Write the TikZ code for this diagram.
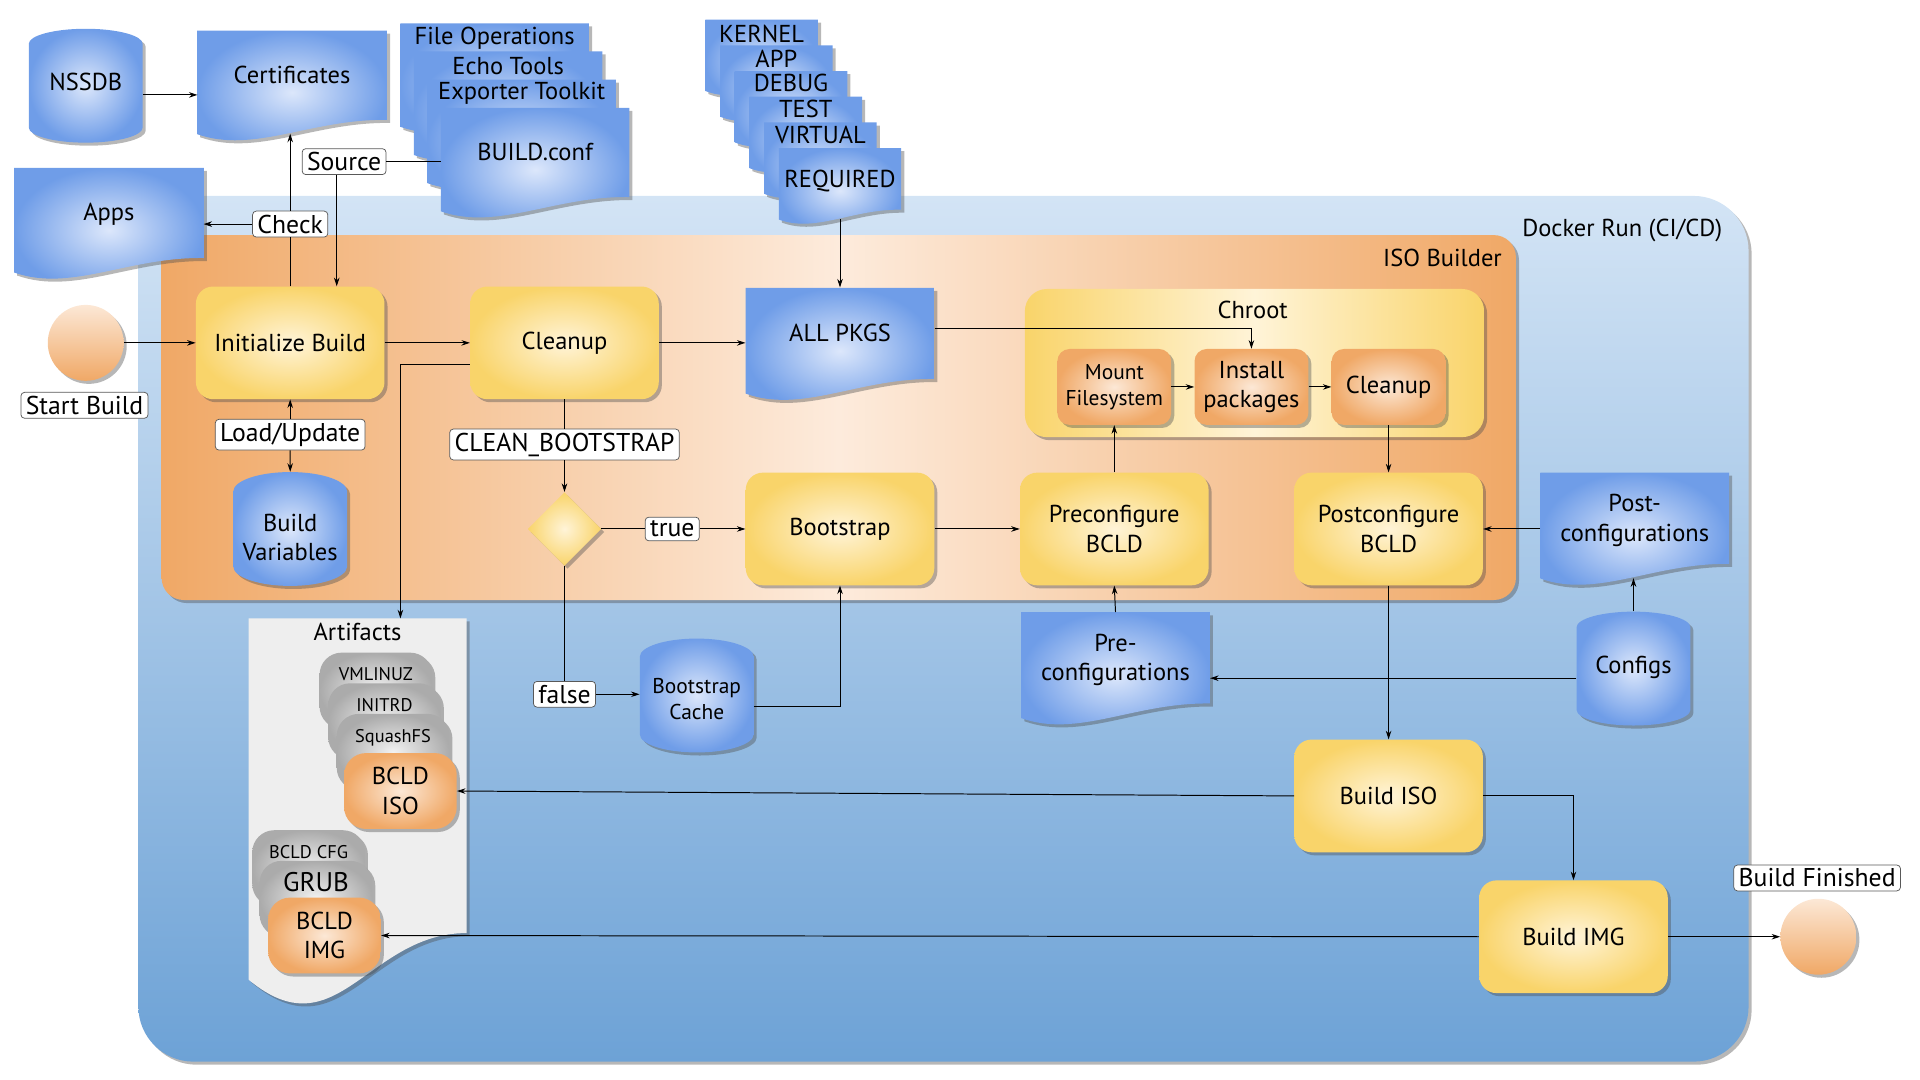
\documentclass[tikz,border=0pt]{standalone}
\usepackage{fontspec}
\setmainfont{PT Sans}
\usetikzlibrary{positioning,shapes.geometric,shadows,arrows.meta}

\definecolor{yelOut}{HTML}{F9D46A}
\definecolor{yelIn}{HTML}{FFF4D8}
\definecolor{bluOut}{HTML}{6F9DE8}
\definecolor{bluIn}{HTML}{DCE7FB}
\definecolor{ornOut}{HTML}{F0A866}
\definecolor{ornIn}{HTML}{FCE8D6}
\definecolor{gryOut}{HTML}{ABABAB}
\definecolor{gryIn}{HTML}{F2F2F2}
\definecolor{dockTop}{HTML}{D3E4F5}
\definecolor{dockBot}{HTML}{6DA2D6}
\definecolor{isoSide}{HTML}{F0A866}
\definecolor{isoMid}{HTML}{FDEBDC}
\definecolor{artBg}{HTML}{EEEEEE}

\newcommand\txtL{\fontsize{20}{24}\selectfont}
\newcommand\txtLbl{\fontsize{21}{24}\selectfont}
\newcommand\txtM{\fontsize{17.5}{21}\selectfont}
\newcommand\txtS{\fontsize{15}{17}\selectfont}

% document shape: centre x, centre y, width, height
\newcommand\docshape[4]{%
  \path[docfill] ({#1-#3/2},{#2-#4/2}) -- ({#1+#3/2},{#2-#4/2}) -- ({#1+#3/2},{#2+0.31*#4})
    .. controls ({#1+0.1*#3},{#2+0.3*#4}) and ({#1-0.2*#3},{#2+0.62*#4}) .. ({#1-#3/2},{#2+0.44*#4}) -- cycle;}

\tikzset{
  every node/.style={font=\txtL},
  arr/.style={-{Stealth[length=7pt,width=4.5pt]}, line width=0.8pt},
  ln/.style={line width=0.8pt},
  shdw/.style={drop shadow={shadow xshift=2.5pt, shadow yshift=-2.5pt, opacity=0.4, fill=black!70}},
  proc/.style={shade, shdw, rounded corners=14pt, inner color=yelIn, outer color=yelOut,
    minimum width=154pt, minimum height=92pt, align=center},
  sub/.style={shade, shdw, rounded corners=10pt, inner color=ornIn, outer color=ornOut,
    minimum width=93pt, minimum height=62pt, align=center},
  docfill/.style={shade, shdw, inner color=bluIn, outer color=bluOut},
  docnode/.style={align=center, minimum width=154pt, text depth=12pt},
  db/.style={cylinder, shape border rotate=90, aspect=0.4, shade, shdw, inner color=bluIn,
    outer color=bluOut, minimum width=93pt, minimum height=93pt, align=center,
    anchor=shape center, inner sep=1pt, text depth=22pt},
  db2/.style={db, text depth=12pt},
  item/.style={shade, shdw, rounded corners=18pt, inner color=gryIn, outer color=gryOut,
    minimum width=92pt, minimum height=62pt, font=\txtS, text height=10pt, text depth=26pt},
  itemO/.style={shade, shdw, rounded corners=18pt, inner color=ornIn, outer color=ornOut,
    minimum width=92pt, minimum height=62pt, align=center},
  startc/.style={circle, shade, shdw, top color=ornIn, bottom color=ornOut, minimum size=62pt},
  lbl/.style={draw=black!65, line width=0.6pt, fill=white, rounded corners=3pt,
    inner xsep=4pt, inner ysep=3pt, font=\txtLbl}
}

\begin{document}
\begin{tikzpicture}[x=1pt, y=-1pt]
  \useasboundingbox (0,0) rectangle (1568,882);

  % containers
  \shade[shdw, top color=dockTop, bottom color=dockBot, rounded corners=45pt] (113,160) rectangle (1428,867);
  \node[anchor=east] (dockerlbl) at (1410,188) {Docker Run (CI/CD)};
  \shade[shdw, left color=isoSide, right color=isoSide, middle color=isoMid, rounded corners=18pt] (132,192) rectangle (1238,490);
  \node[anchor=east] (isolbl) at (1230,211) {ISO Builder};
  \shade[shdw, left color=yelOut, right color=yelOut, middle color=yelIn, rounded corners=18pt] (837,236) rectangle (1212,357);
  \node (chroot) at (1023,253) {Chroot};

  % sources at the top
  \node[db] (nssdb) at (70,70) {NSSDB};
  \docshape{238.5}{70}{155}{90}
  \node[docnode] (cert) at (238.5,67) [minimum height=84pt] {Certificates};
  \docshape{89}{182.5}{155}{91}
  \node[docnode] (apps) at (89,179) [minimum height=85pt] {Apps};

  \docshape{404}{64}{154}{90}
  \node (fileops) at (404,31) {File Operations};
  \docshape{415}{87}{154}{90}
  \node (echo) at (415,54) {Echo Tools};
  \docshape{426}{110}{154}{90}
  \node (exporter) at (426,76) {Exporter Toolkit};
  \docshape{437}{133}{154}{90}
  \node[docnode] (buildconf) at (437,130) [minimum height=84pt] {BUILD.conf};

  \docshape{622}{47}{92}{62}
  \node (kernel) at (622,28) {KERNEL};
  \docshape{634}{68}{92}{62}
  \node (app) at (634,48) {APP};
  \docshape{646}{89}{92}{62}
  \node (debug) at (646,68) {DEBUG};
  \docshape{658}{110}{92}{62}
  \node (test) at (658,89) {TEST};
  \docshape{670}{131}{92}{62}
  \node (virtual) at (670,110) {VIRTUAL};
  \docshape{686}{152}{100}{62}
  \node[docnode, minimum width=100pt, text depth=8pt] (required) at (686,150) [minimum height=58pt] {REQUIRED};

  % ISO builder
  \node[startc] (start) at (70,280) {};
  \node[lbl] (lstart) at (69,331) {Start Build};
  \node[proc] (init) at (237,280) {Initialize Build};
  \node[proc] (cleanA) at (461,280) {Cleanup};
  \docshape{686}{281}{154}{92}
  \node[docnode] (allpkgs) at (686,278) [minimum height=86pt] {ALL PKGS};
  \node[sub, font=\txtM] (mount) at (910,316) {Mount\\Filesystem};
  \node[sub] (install) at (1022,316) {Install\\packages};
  \node[sub] (cleanB) at (1134,316) {Cleanup};
  \node[db2, text depth=6pt] (buildvars) at (237,432) {Build\\Variables};
  \node[diamond, shade, shdw, inner color=yelIn, outer color=yelOut, minimum width=60pt,
    minimum height=60pt, inner sep=0pt] (cond) at (461,432) {};
  \node[proc] (boot) at (686,432) {Bootstrap};
  \node[proc] (precfg) at (910,432) {Preconfigure\\BCLD};
  \node[proc] (postcfg) at (1134,432) {Postconfigure\\BCLD};

  % docker run
  \docshape{1335}{432}{154}{92}
  \node[docnode] (postdoc) at (1335,429) [minimum height=86pt] {Post-\\configurations};
  \docshape{911}{546}{154}{92}
  \node[docnode] (predoc) at (911,543) [minimum height=86pt] {Pre-\\configurations};
  \node[db] (configs) at (1334,546) {Configs};
  \node[db2, font=\txtM] (bcache) at (569,568) {Bootstrap\\Cache};
  \node[proc] (iso) at (1134,650) {Build ISO};
  \node[proc] (img) at (1285,765) {Build IMG};
  \node[startc] (finish) at (1485,765) {};
  \node[lbl] (lend) at (1484,717) {Build Finished};

  % artifacts
  \path[fill=artBg, shdw] (203,505) -- (381,505) -- (381,762)
    .. controls (300,762) and (275,860) .. (203,800) -- cycle;
  \node[anchor=north] (artifacts) at (292,505) {Artifacts};
  \node[item] (vmlinuz) at (307,564) {VMLINUZ};
  \node[item] (initrd) at (314,589) {INITRD};
  \node[item] (squashfs) at (321,614) {SquashFS};
  \node[itemO] (bcldiso) at (327,646) {BCLD\\ISO};
  \node[item] (bcldcfg) at (252,709) {BCLD CFG};
  \node[item, font=\fontsize{22}{24}\selectfont, text depth=22pt] (grub) at (258,734) {GRUB};
  \node[itemO] (bcldimg) at (265,764) {BCLD\\IMG};

  % labels on connectors
  \node[lbl] (lsource) at (281,132) {Source};
  \node[lbl] (lcheck) at (237,183) {Check};
  \node[lbl] (lload) at (237,355) {Load/Update};
  \node[lbl] (lclean) at (461,363) {CLEAN\_BOOTSTRAP};
  \node[lbl] (ltrue) at (549,432) {true};
  \node[lbl] (lfalse) at (461,567) {false};

  % connectors
  \draw[arr] (nssdb.east) -- (nssdb.east -| cert.west);
  \draw[ln] (init.north) -- (lcheck.south);
  \draw[arr] (lcheck.north) -- (lcheck.north |- cert.south);
  \draw[arr] (lcheck.west) -- (lcheck.west -| apps.east);
  \draw[ln] (buildconf.west |- lsource.east) -- (lsource.east);
  \draw[arr] ([xshift=-6pt]lsource.south) -- ([xshift=-6pt]lsource.south |- init.north);
  \path (start) edge[arr] (init);
  \path (init) edge[arr] (cleanA);
  \draw[arr] (cleanA.east) -- (cleanA.east -| allpkgs.west);
  \draw[arr] (required.south) -- (allpkgs.north);
  \draw[arr] ([yshift=10pt]allpkgs.east) -| (install.north);
  \path (mount) edge[arr] (install);
  \path (install) edge[arr] (cleanB);
  \path (cleanB) edge[arr] (postcfg);
  \path (precfg) edge[arr] (mount);
  \draw[arr] (lload.north) -- (init.south);
  \draw[arr] (lload.south) -- (buildvars.north);
  \draw[ln] (cleanA.south) -- (lclean.north);
  \draw[arr] (lclean.south) -- (cond.north);
  \draw[ln] (cond.east) -- (ltrue.west);
  \draw[arr] (ltrue.east) -- (boot.west);
  \draw[ln] (cond.south) -- (lfalse.north);
  \draw[arr] (lfalse.east) -- (lfalse.east -| bcache.west);
  \draw[arr] (bcache.east) -| (boot.south);
  \path (boot) edge[arr] (precfg);
  \draw[arr] (predoc.north) -- (precfg.south);
  \draw[arr] (configs.west) -- (configs.west -| predoc.east);
  \draw[arr] (configs.north) -- (configs.north |- postdoc.south);
  \draw[arr] (postcfg.east -| postdoc.west) -- (postcfg.east);
  \path (postcfg) edge[arr] (iso);
  \draw[arr] (iso.west) -- (bcldiso.east);
  \draw[arr] (iso.east) -| (img.north);
  \draw[arr] (img.west) -- (bcldimg.east);
  \path (img) edge[arr] (finish);
  \draw[arr] ([yshift=-18pt]cleanA.west) -| ([xshift=35pt]artifacts.north);
\end{tikzpicture}
\end{document}
